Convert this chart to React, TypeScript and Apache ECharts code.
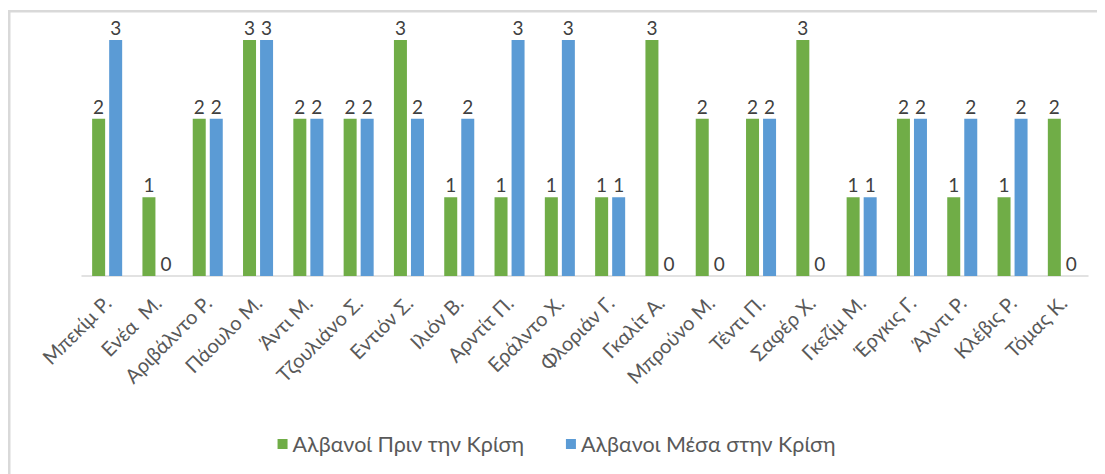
import React, { useEffect, useRef } from "react";
import * as echarts from "echarts";

const categories = [
  "Μπεκίμ Ρ.", "Ενέα  Μ.", "Αριβάλντο Ρ.", "Πάουλο Μ.", "Άντι Μ.", "Τζουλιάνο Σ.",
  "Εντιόν Σ.", "Ιλιόν Β.", "Αρντίτ Π.", "Εράλντο Χ.", "Φλοριάν Γ.", "Γκαλίτ Α.",
  "Μπρούνο Μ.", "Τέντι Π.", "Σαφέρ Χ.", "Γκεζίμ Μ.", "Έργκις Γ.", "Άλντι Ρ.",
  "Κλέβις Ρ.", "Τόμας Κ.",
];
const beforeCrisis = [2, 1, 2, 3, 2, 2, 3, 1, 1, 1, 1, 3, 2, 2, 3, 1, 2, 1, 1, 2];
const duringCrisis = [3, 0, 2, 3, 2, 2, 2, 2, 3, 3, 1, 0, 0, 2, 0, 1, 2, 2, 2, 0];
const seriesNames = ["Αλβανοί Πριν την Κρίση", "Αλβανοι Μέσα στην Κρίση"];

const FONT = "Lato, 'Open Sans', sans-serif";

export default function App() {
  const ref = useRef<HTMLDivElement>(null);
  useEffect(() => {
    if (!ref.current) return;
    const chart = echarts.init(ref.current, undefined, { renderer: "svg" });
    const label = {
      show: true,
      position: "top",
      distance: 3,
      color: "#404040",
      fontSize: 19,
      fontFamily: FONT,
    };
    chart.setOption({
      animation: false,
      backgroundColor: "#ffffff",
      textStyle: { fontFamily: FONT },
      graphic: [
        {
          type: "rect",
          shape: { x: 1.25, y: 3.25, width: 2000, height: 2000 },
          style: { fill: "none", stroke: "#d9d9d9", lineWidth: 2.5 },
          silent: true,
        },
      ],
      legend: {
        bottom: 14,
        left: "center",
        itemWidth: 10,
        itemHeight: 10,
        itemGap: 42,
        icon: "rect",
        textStyle: { color: "#595959", fontSize: 21.5, fontFamily: FONT },
        data: seriesNames,
      },
      grid: { left: 74, right: 17, top: 32, bottom: 198, containLabel: false },
      xAxis: {
        type: "category",
        data: categories,
        axisLine: { lineStyle: { color: "#d9d9d9", width: 1.5 } },
        axisTick: { show: false },
        axisLabel: {
          rotate: 45,
          interval: 0,
          color: "#595959",
          fontSize: 20,
          fontFamily: FONT,
          margin: 23,
        },
      },
      yAxis: {
        type: "value",
        min: 0,
        max: 3,
        interval: 1,
        show: false,
        splitLine: { show: false },
      },
      series: [
        {
          name: seriesNames[0],
          type: "bar",
          data: beforeCrisis,
          barWidth: 13,
          barGap: "31%",
          itemStyle: { color: "#70AD47" },
          label,
        },
        {
          name: seriesNames[1],
          type: "bar",
          data: duringCrisis,
          barWidth: 13,
          itemStyle: { color: "#5B9BD5" },
          label,
        },
      ],
    });
    return () => chart.dispose();
  }, []);
  return <div ref={ref} style={{ width: 1097, height: 466 }} />;
}
